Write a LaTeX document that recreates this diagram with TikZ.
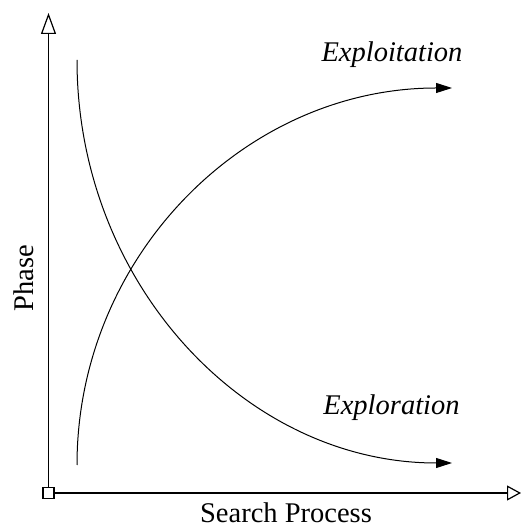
\documentclass[tikz,border=0pt]{standalone}
\usepackage{fontspec}
\setmainfont{Liberation Serif}
\usetikzlibrary{arrows.meta}
\begin{document}
\begin{tikzpicture}[x=1pt,y=1pt,
  axis/.style={line width=1.3pt},
  curve/.style={line width=1pt,-{Triangle[length=16pt,width=10pt]}},
  lbl/.style={inner sep=0pt,anchor=base,font=\fontsize{28.5}{30}\selectfont}]
\useasboundingbox (0,0) rectangle (520,529);
\node[draw,line width=1.5pt,fill=white,minimum size=11pt,inner sep=0pt] (o) at (48.5,36) {};
\coordinate (ytip) at (48.5,516);
\coordinate (xtip) at (521,36);
\draw[axis,-{Triangle[open,length=21pt,width=15pt,line width=1.2pt]}] (o) -- (ytip);
\draw[axis,-{Triangle[open,length=14pt,width=15pt,line width=1.2pt]}] (o) -- (xtip);
\coordinate (s1) at (77,64);
\coordinate (s2) at (77,469);
\draw[curve] (s1) arc[start angle=180,end angle=90,x radius=375,y radius=377];
\draw[curve] (s2) arc[start angle=180,end angle=270,x radius=375,y radius=403];
\node[lbl] (t1) at (392,467) {\itshape Exploitation};
\node[lbl] (t2) at (391.5,114) {\itshape Exploration};
\node[lbl] (t3) at (286,6) {Search Process};
\node[lbl,rotate=90] (t4) at (33,251) {Phase};
\end{tikzpicture}
\end{document}
